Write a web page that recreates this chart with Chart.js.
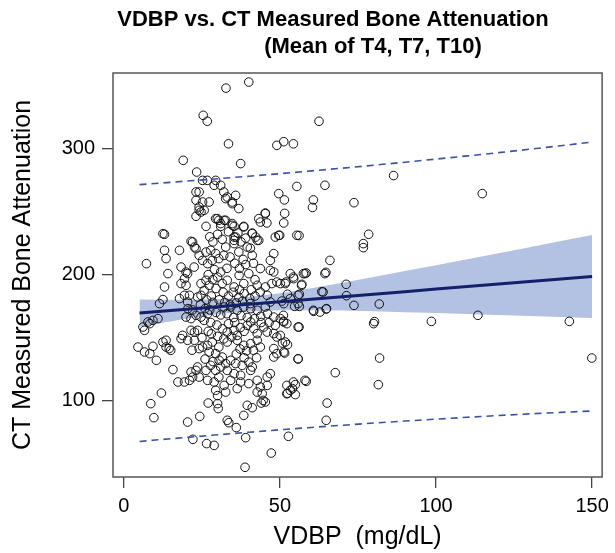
<!DOCTYPE html>
<html><head><meta charset="utf-8">
<script src="https://cdn.jsdelivr.net/npm/chart.js@4/dist/chart.umd.min.js"></script>
<style>html,body{margin:0;padding:0;background:#fff}#wrap{width:615px;height:553px}</style>
</head><body><div id="wrap"><canvas id="c" width="615" height="553"></canvas></div>
<script>
const titleLines = ["VDBP vs. CT Measured Bone Attenuation", "(Mean of T4, T7, T10)"];
const xTitle = "VDBP  (mg/dL)";
const yTitle = "CT Measured Bone Attenuation";
const xTicks = [0, 50, 100, 150];
const yTicks = [100, 200, 300];

// regression fit, 95% confidence band and 95% prediction limits
const fitX    = [5, 10, 20, 30, 40, 50, 60, 70, 80, 90, 100, 110, 120, 130, 140, 150];
const fitY    = [169.5,170.5,172.5,174.5,176.5,178.5,180.5,182.5,184.5,186.5,188.5,190.5,192.5,194.5,196.5,198.5];
const clUpper = [180.3,180.1,180.0,180.5,182.2,185.3,189.2,193.5,198.1,202.8,207.5,212.2,217.0,221.8,226.7,231.5];
const clLower = [158.7,160.9,165.0,168.5,170.8,171.7,171.8,171.5,170.9,170.2,169.5,168.8,168.0,167.2,166.3,165.5];
const plUpper = [271.4,272.3,274.2,276.1,278.1,280.1,282.3,284.5,286.8,289.2,291.7,294.2,296.8,299.5,302.3,305.2];
const plLower = [67.6,68.7,70.8,72.9,74.9,76.9,78.7,80.5,82.2,83.8,85.3,86.8,88.2,89.5,90.7,91.8];

// observations [VDBP, bone attenuation]
const observations = [
[40.0,352.8],[32.7,348],[25.4,326.4],[26.7,321.7],[33.5,303.8],[49,302.6],[51.2,305.5],[54.3,303.8],[62.5,321.7],[19,290.7],
[37.4,288.1],[23.3,281.4],[25.2,274.8],[26.7,274.8],[86.4,278.6],[55.4,270],[64.4,270.9],[114.8,264.3],[60.7,259.3],[60.4,253.3],
[73.7,257.1],[51.4,259.3],[51.5,248.6],[51.2,241],[49.9,231.2],[56.1,231],[78.4,232],[76.7,224.6],[76.7,221.4],[66,211.3],
[58.4,201.3],[64.7,201.8],[54.4,196.8],[51.9,194.1],[50.1,192.9],[57,192.3],[71.2,192.3],[63.4,186.5],[52.4,184.4],[56.2,184.4],
[71.3,183.3],[50.6,179],[54.7,174.8],[56.2,174.8],[73.7,175.6],[81.8,176.7],[60.8,170.9],[64.8,172.7],[51.1,167.7],[51.1,163],
[80,161.1],[80.3,162.7],[98.5,162.9],[113.4,167.7],[142.7,162.9],[56.1,158.4],[50.1,151.8],[50.8,145.7],[52.4,144.4],[51.5,137.8],
[55.8,133],[81.9,133.8],[149.9,133.8],[67.7,122.2],[58.4,115.3],[54.9,112.7],[54,109.5],[52.4,105.8],[54.9,104.8],[81.5,112.7],
[65.1,98.1],[64.8,84.4],[52.7,71.7],
[38.8,47.1],[47.2,58.4],[39,70.6],[38.4,88.3],[39.5,96.3],[41.1,94.4],[36,78.6],[33.6,82.5],[33.1,84.4],[52.2,105.5],
[42.7,106.8],[44.3,105.6],[44.6,100.2],[44,98.1],[45.3,98.9],[12,106],[8.6,97.6],[9.6,86.5],[20.4,83],[24.3,87.5],
[22.1,69.3],[26.5,65.9],[28.9,64.5],[27,98.1],[30,97.6],[30.2,93.7],
[14.1,200.8],[13,190.2],[12.5,180.2],[11.4,177],[17.8,181],[19.4,183.6],[20.4,178.3],[21,183.6],[23.6,182.2],[24.7,183.6],
[18.3,192.9],[19.9,191.5],[20.4,200.8],[19.4,196.8],[24.7,192.9],[26.3,195.5],[27.3,191.5],[25.7,187.5],[10.9,165.1],[9.3,163.7],
[8.3,161.1],[6.6,155.8],[6.1,158.4],[7.7,162.4],[4.5,142.5],[6.6,138.6],[9.3,143.1],[8.3,137.3],[10.4,132],[12.5,146.5],
[13.5,142.5],[14.5,141.3],[15,139.9],[13.5,147.9],[15.7,124.6],[17.3,114.8],[19.4,114.8],[21,116.1],[22,118.7],[21.5,122.7],
[23.1,124],[18.3,149.2],[18.8,151.8],[20.4,147.9],[21.5,155.8],[22.6,154.4],[23.6,155.8],[22.6,147.9],[19.9,166.3],[21.5,165.1],
[23.1,167.7],[24.7,166.3],[25.7,163.7],[26.8,169],[24.1,141.3],[25.2,142.5],[26.8,143.9],[28.3,146.5],[27.3,138.6],[29.4,137.3],
[30.4,142.5],[31.5,134.6],[23.6,126.7],[26.3,124],[27.8,128],[29.4,124],[31,126.7],[32.6,129.4],[24.1,118.7],[26.8,116.1],
[28.9,114.8],[30.4,118.7],[32.1,112.1],[29.4,108.2],[32.6,106.8],
[23.1,265.6],[25.2,257.6],[27.3,257.6],[24.7,249.7],[25.7,251],[23.1,246.3],[29.4,244.4],[30.4,243.1],[26.3,238.3],[31,238.3],
[32.6,243.1],[13,232],[21.5,226.4],[23.1,220.6],[13,219.3],[17.8,219.3],[13.5,212.7],[7.2,208.7],[18.3,206],[19.9,202],
[26.3,217.9],[27.8,219.3],[29.4,216.7],[24.1,215.3],[25.2,211.3],[26.8,208.7],[28.3,211.3],[30.4,212.7],[32.6,221.9],[32,215.3],
[29.4,274.8],[31,270.9],[32,265.6],[32.6,260.3],
[35.8,262.9],[34.7,256.3],[36.8,252.4],[49.6,264.3],[45.3,248.9],[43.2,244.4],[43.7,241.7],[45.8,241],[48.5,229.8],[49.6,231.2],
[32.1,243.1],[34.7,240.5],[35.3,238.3],[38.4,238.3],[41.1,233],[42.2,229.8],[43.2,227.2],[39.5,221.9],[35.3,229.8],[35.3,227.2],
[35.3,224.6],[41.1,215.3],[48,216.7],[46.9,211.3],[43.7,204.8],[46.9,203.4],[48,202.1],[53.3,200.8],[57.5,200.8],
[33.1,195.5],[35.3,190.2],[36.9,199.4],[38.4,192.9],[40,200.8],[42.7,191.5],[43.7,186.2],[45.3,190.2],[47.4,192.9],[49,194.1],
[51.7,192.9],[54.3,198.1],[56.9,191.5],[58,200.8],[63.8,186.2],[64.4,200.8],[45.9,183.6],[46.9,178.3],[51.2,177],[53.3,181],
[55.8,183.6],[55.8,177],[60.7,171.7],[64.9,173],[62.8,170.3],[32.1,174.3],[34.2,174.3],[36.3,171.7],[38.4,174.3],[40.6,173],
[42.7,171.7],[45.3,174.3],[48,166.3],[50.1,165.1],[51.2,162.4],[48.5,159.8],[52.2,161.1],[33.1,154.4],[35.3,155.8],[36.3,151.8],
[39.5,159.8],[40.6,162.4],[41.6,157.1],[42.7,153.2],[44.8,158.4],[45.9,154.4],[48,153.2],[49,150.5],[55.8,158.4],[33.1,146.5],
[36.3,147.9],[38.4,143.9],[40.6,145.2],[42.7,147.9],[43.7,142.5],[48,141.3],[49,137.3],[51.7,146.5],[51.2,138.6],[48,134.6],
[55.8,133.3],[34.2,132],[35.8,129.4],[37.9,128],[40,130.6],[41.1,126.7],[33.1,124],[35.3,121.4],[37.4,120.1],[40.6,124],
[34.2,116.1],[37.4,114.8],[40,113.5],[42.7,116.1],[45.9,118.7],[46.9,121.4],[36.3,109.5],[43.7,110.8],[45.9,112.1],[52.2,112.1],
[53.3,108.2],[54.3,114.8],[58,116.1],
[12.5,232.5],[22,225.9],[22.6,221.9],[29.9,244.4],[31,240.5],[34.7,239.1],[35.8,229.8],[38.4,237.8],[41.1,232.5],[42.7,227.2],
[45.3,248.4],[55.4,231.2],[24.1,265.6],[23.1,259],[24.1,253.7],[24.1,251],[28.9,270.9],[33.1,261.6],[34.7,257.6],
[27.5,230],[28.5,226],[30,232],[31.5,228],[33.5,234],[36.5,233],[37.5,226],[39,229],[40.5,221],[36.8,218],
[38.2,212],[34,214],[35.5,209],[37,205],[39,208],[41.5,209],[33,205],[31,202],[29,204],[27,200],
[28.5,196],[30,198],[31.5,193],[29.5,189],[31.8,186],[33.5,183],[35,186],[36.8,182],[38.5,185],[40.3,181],
[42,183],[28,183],[26.5,180],[28.5,178],[30.5,180],[32.3,178],[34,176],[36,177.5],[38,179],[40.5,177],
[27.5,172],[29.5,170],[31,168],[33,169],[35.2,166],[37.5,167.5],[39.5,166],[41.8,165],[43.8,167],[46,169],
[27.8,162],[29.8,160],[31.6,157],[33.5,161],[35.5,162],[37.3,158],[38.5,155],[44,162],[46.5,162],[28,153],
[30,151],[32,149],[34.5,150.5],[37.2,141],[39.3,139.5],[41.5,140],[36,137],[38.5,134],[42.5,134],[30.5,132],
[28.5,131],[26,133],[25,150],[27,155],[26,173],[24.5,176],[22,172],[20.5,173],[21.8,140],[42,196],
[40.8,188],[37,188],[22.5,206],[30,104]
];

const box = {
  id: 'box',
  afterDatasetsDraw(chart) {
    const a = chart.chartArea, ctx = chart.ctx;
    ctx.save();
    ctx.strokeStyle = '#555';
    ctx.lineWidth = 1.5;
    ctx.strokeRect(a.left, a.top, a.right - a.left, a.bottom - a.top);
    ctx.restore();
  },
  afterDraw(chart) {
    const ctx = chart.ctx;
    ctx.save();
    ctx.fillStyle = '#000';
    ctx.textAlign = 'center';
    ctx.textBaseline = 'middle';
    ctx.font = 'bold 22px "Liberation Sans", Arial, sans-serif';
    ctx.fillText(titleLines[0], 333, 20);
    ctx.fillText(titleLines[1], 373, 47);
    ctx.restore();
  }
};

const pts = (xs, ys) => xs.map((x, i) => ({x: x, y: ys[i]}));
const tickFont = {family: '"Liberation Sans", Arial, sans-serif', size: 20};
const titleFont = {family: '"Liberation Sans", Arial, sans-serif', size: 25};

new Chart(document.getElementById('c'), {
  type: 'scatter',
  data: {
    datasets: [
      {type: 'line', data: pts(fitX, clUpper), borderWidth: 0, pointRadius: 0, backgroundColor: '#b3c1e2', fill: '+1', order: 5},
      {type: 'line', data: pts(fitX, clLower), borderWidth: 0, pointRadius: 0, fill: false, order: 5},
      {data: observations.map(p => ({x: p[0], y: p[1]})), pointRadius: 4.3, pointBorderWidth: 1, pointBorderColor: '#111', pointBackgroundColor: 'rgba(0,0,0,0)', order: 4},
      {type: 'line', data: pts(fitX, plUpper), borderColor: '#3b52a6', borderWidth: 1.6, borderDash: [7, 5], pointRadius: 0, fill: false, order: 2},
      {type: 'line', data: pts(fitX, plLower), borderColor: '#3b52a6', borderWidth: 1.6, borderDash: [7, 5], pointRadius: 0, fill: false, order: 2},
      {type: 'line', data: pts(fitX, fitY), borderColor: '#14206b', borderWidth: 3, pointRadius: 0, fill: false, order: 1}
    ]
  },
  options: {
    responsive: false,
    animation: false,
    layout: {padding: {top: 73, right: 9, left: 0, bottom: 0}},
    plugins: {legend: {display: false}, tooltip: {enabled: false}, title: {display: false}},
    scales: {
      x: {
        type: 'linear', min: -3.5, max: 153.2,
        afterBuildTicks: s => { s.ticks = xTicks.map(v => ({value: v})); },
        afterFit: s => { s.height = 76; },
        border: {display: false},
        grid: {display: true, drawOnChartArea: false, drawTicks: true, tickLength: 11, color: '#444', lineWidth: 1.3},
        ticks: {font: tickFont, color: '#000', padding: 6, maxRotation: 0},
        title: {display: true, text: xTitle, font: titleFont, color: '#000', padding: {top: 0, bottom: 1}}
      },
      y: {
        type: 'linear', min: 39.4, max: 360,
        afterBuildTicks: s => { s.ticks = yTicks.map(v => ({value: v})); },
        afterFit: s => { s.width = 113; },
        border: {display: false},
        grid: {display: true, drawOnChartArea: false, drawTicks: true, tickLength: 11, color: '#444', lineWidth: 1.3},
        ticks: {font: tickFont, color: '#000', padding: 7},
        title: {display: true, text: yTitle, font: titleFont, color: '#000', padding: {top: 8, bottom: 0}}
      }
    }
  },
  plugins: [box]
});
</script>
</body></html>
